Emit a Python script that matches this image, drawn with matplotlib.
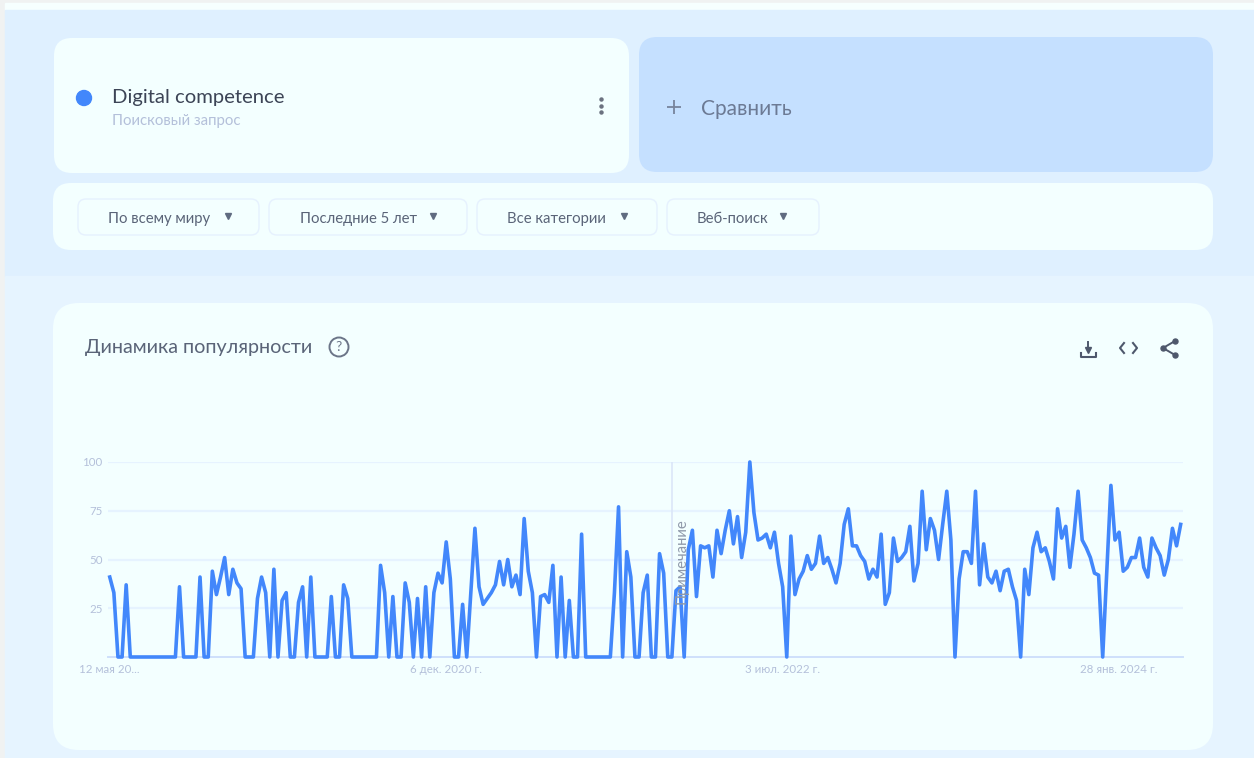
#!/usr/bin/env python3
import matplotlib
matplotlib.use('Agg')
import pandas as pd
import matplotlib.pyplot as plt
from matplotlib.patches import FancyBboxPatch, Rectangle, Circle

plt.rcParams['font.family'] = ['Lato', 'DejaVu Sans']

W, H = 1254, 758

# weekly interest values
values_2019 = [41, 33, 0, 0, 37, 0, 0, 0, 0, 0, 0, 0, 0, 0, 0, 0, 0, 36, 0, 0,
               0, 0, 41, 0, 0, 44, 32, 41, 51, 32, 45, 38, 35, 0, 0, 0, 30, 41, 33, 0,
               45, 0, 29, 33, 0, 0, 28, 36, 0, 41, 0, 0, 0, 0, 31, 0, 0, 37, 30, 0]
values_2020 = [0, 0, 0, 0, 0, 0, 47, 33, 0, 31, 0, 0, 38, 28, 0, 30, 0, 36, 0, 33,
               43, 38, 59, 40, 0, 0, 27, 0, 33, 66, 36, 27, 30, 33, 37, 49, 37, 50, 36, 42,
               32, 71, 44, 33, 0, 31, 32, 28, 47, 0, 41, 0, 29, 0, 0, 63, 0, 0, 0, 0,
               0, 0, 0, 33, 77, 0, 54, 41, 0, 0, 33, 42, 0, 0]
values_2021 = [53, 43, 0, 0, 34, 36, 0, 55, 65, 31, 57, 56, 57, 41, 65, 53, 65, 75, 58, 72,
               51, 64, 100, 74, 60, 61, 63, 56, 64, 48, 36, 0, 62, 32, 40, 44, 52, 45, 48, 62,
               48, 51, 45, 38, 48, 68, 76, 57, 57, 52, 49, 40, 45, 41, 63, 27, 33, 61, 49, 51,
               54, 67, 39, 48]
values_2023 = [85, 55, 71, 65, 50, 68, 85, 60, 0, 40, 54, 54, 48, 85, 37, 58, 41, 38, 44, 34,
               44, 45, 36, 29, 0, 45, 32, 56, 64, 54, 56, 49, 40, 76, 61, 67, 46, 63, 85, 60,
               56, 51, 43, 42, 0, 44, 88, 60, 64, 44, 46, 51, 51, 61, 46, 41, 61, 56, 52, 42,
               50, 66, 57, 68]
interest = values_2019 + values_2020 + values_2021 + values_2023
dates = pd.date_range('2019-05-12', periods=len(interest), freq='7D')

y_ticks = [25, 50, 75, 100]
x_tick_dates = ['2019-05-12', '2020-12-06', '2022-07-03', '2024-01-28']
x_tick_labels = ['12 мая 20...', '6 дек. 2020 г.', '3 июл. 2022 г.', '28 янв. 2024 г.']
note_date = '2021-12-26'

term = 'Digital competence'
term_type = 'Поисковый запрос'
compare_label = 'Сравнить'
filter_labels = ['По всему миру', 'Последние 5 лет', 'Все категории', 'Веб-поиск']
chart_title = 'Динамика популярности'
note_label = 'Примечание'

CARD = '#f3ffff'
LINE = '#4287fb'
MUTED = '#b4c0da'
TEXT = '#5a6478'


def card(ax, x0, y0, x1, y1, radius, face, edge='none', lw=0):
    ax.add_patch(FancyBboxPatch((x0 + radius, y0 + radius), x1 - x0 - 2 * radius, y1 - y0 - 2 * radius,
                                boxstyle=f'round,pad={radius},rounding_size={radius}',
                                facecolor=face, edgecolor=edge, linewidth=lw))


def draw_page(ax):
    ax.add_patch(Rectangle((0, 0), W, H, color='#f0f2f2'))
    ax.add_patch(Rectangle((5, 3), W - 5, 7, color='#f6ffff'))
    ax.add_patch(Rectangle((5, 10), W - 5, 266, color='#dff0ff'))
    ax.add_patch(Rectangle((5, 276), W - 5, H - 276, color='#e6f4ff'))

    card(ax, 54, 38, 629, 173, 18, CARD)
    card(ax, 639, 37, 1213, 172, 18, '#c5e0ff')
    card(ax, 53, 183, 1213, 250, 18, CARD)
    card(ax, 53, 303, 1213, 750, 26, CARD)

    ax.add_patch(Circle((84, 98), 7.5, color=LINE))
    ax.text(112, 97, term, fontsize=14.6, color='#3c4456', va='center')
    ax.text(112, 121, term_type, fontsize=10.8, color=MUTED, va='center')
    ax.plot([601, 601, 601], [99, 105.5, 112], ls='none', marker='o', ms=2.2, color='#6b7280')

    ax.plot([674], [107], marker='+', ms=10, mew=1.3, color='#77849c')
    ax.text(701, 109, compare_label, fontsize=15, color='#6c7a94', va='center')

    chip_edges = [(78, 259), (269, 467), (477, 657), (667, 819)]
    text_x = [108, 300, 507, 697]
    arrow_x = [228, 433, 624, 783]
    for (x0, x1), tx, ax_x, label in zip(chip_edges, text_x, arrow_x, filter_labels):
        card(ax, x0, 199, x1, 235, 8, CARD, edge='#e6f1fe', lw=1.0)
        ax.text(tx, 219, label, fontsize=10.7, color=TEXT, va='center')
        ax.plot([ax_x], [216], marker='v', ms=4.5, color='#5f6b80')

    ax.text(85, 347, chart_title, fontsize=14.2, color=TEXT, va='center')
    ax.add_patch(Circle((339, 347), 9.5, facecolor='none', edgecolor='#6b7588', lw=1.4))
    ax.text(339, 347, '?', fontsize=10, color='#6b7588', ha='center', va='center')

    # download, embed and share icons
    icon = '#4e586c'
    ax.plot([1088, 1088], [342, 350], color=icon, lw=1.4)
    ax.plot([1088], [350], marker='v', ms=4.5, color=icon)
    ax.plot([1081, 1081, 1096, 1096], [353, 357, 357, 353], color=icon, lw=1.5)
    ax.plot([1124, 1120, 1124], [343, 348, 353], color=icon, lw=1.5)
    ax.plot([1133, 1137, 1133], [343, 348, 353], color=icon, lw=1.5)
    ax.plot([1175, 1163, 1175], [341, 348, 355], color=icon, lw=1.4)
    ax.plot([1175, 1163, 1175], [341, 348, 355], ls='none', marker='o', ms=3.6, color=icon)


def draw_chart(ax):
    ax.set_facecolor('none')
    ax.set_ylim(0, 100)
    # one week is about 4.1 px, the axis starts 2 px before the first point
    ax.set_xlim(dates[0] - pd.Timedelta(days=3), dates[-1] + pd.Timedelta(days=4))
    ax.grid(axis='y', color='#e6f3ff', lw=1.6)
    ax.set_axisbelow(True)
    for side in ['top', 'left', 'right']:
        ax.spines[side].set_visible(False)
    ax.spines['bottom'].set_color('#cfe0fb')
    ax.spines['bottom'].set_linewidth(1.4)

    ax.set_yticks(y_ticks)
    ax.set_xticks(pd.to_datetime(x_tick_dates))
    ax.set_xticklabels(x_tick_labels)
    ax.tick_params(axis='both', length=0, labelsize=8.3, labelcolor=MUTED)
    ax.tick_params(axis='y', pad=4)
    ax.tick_params(axis='x', pad=5)

    note_x = pd.Timestamp(note_date)
    ax.axvline(note_x, color='#dbe6f8', lw=1.2, zorder=1)
    ax.text(note_x + pd.Timedelta(days=17), 27, note_label, rotation=90, fontsize=10.7,
            color='#8f99aa', ha='center', va='bottom', zorder=4)

    ax.plot(dates, interest, color=LINE, lw=2.6, solid_joinstyle='round', clip_on=False, zorder=3)


if __name__ == '__main__':
    fig = plt.figure(figsize=(W / 100, H / 100), dpi=100)

    page = fig.add_axes([0, 0, 1, 1])
    page.set_xlim(0, W)
    page.set_ylim(H, 0)
    page.axis('off')
    draw_page(page)

    left, right, top, bottom = 108, 1183, 462, 657
    chart = fig.add_axes([left / W, 1 - bottom / H, (right - left) / W, (bottom - top) / H])
    draw_chart(chart)

    fig.savefig('out.png', dpi=100)
